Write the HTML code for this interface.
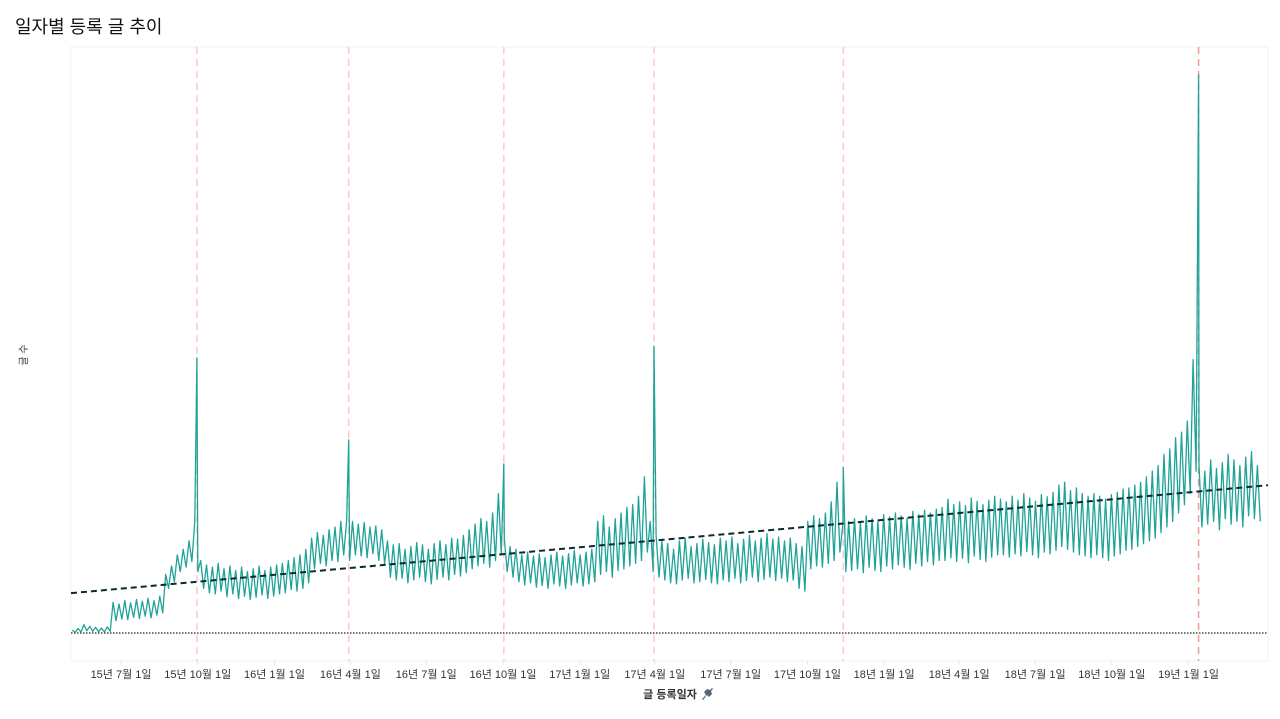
<!DOCTYPE html>
<html><head><meta charset="utf-8">
<style>
html,body{margin:0;padding:0;background:#fff;}
body{width:1280px;height:719px;overflow:hidden;position:relative;font-family:"Liberation Sans","Noto Sans CJK KR",sans-serif;}
#title{position:absolute;left:15px;top:13px;font-size:18px;color:#111;}
svg{position:absolute;left:0;top:0;}
</style></head>
<body>
<div id="title">일자별 등록 글 추이</div>
<svg id="chart" width="1280" height="719" font-family="Liberation Sans, Noto Sans CJK KR, sans-serif"></svg>
<script>
const startDate = new Date(2015,4,2);
const tickDates = [[2015,6,1],[2015,9,1],[2016,0,1],[2016,3,1],[2016,6,1],[2016,9,1],[2017,0,1],[2017,3,1],[2017,6,1],[2017,9,1],[2018,0,1],[2018,3,1],[2018,6,1],[2018,9,1],[2019,0,1]];
const tickLabels = ["15년 7월 1일","15년 10월 1일","16년 1월 1일","16년 4월 1일","16년 7월 1일","16년 10월 1일","17년 1월 1일","17년 4월 1일","17년 7월 1일","17년 10월 1일","18년 1월 1일","18년 4월 1일","18년 7월 1일","18년 10월 1일","19년 1월 1일"];
const weeklyHigh = [5,8,15,12,10,9,11,
55,52,58,54,60,57,62,58,66,
105,120,140,150,165,
200,
130,122,118,125,115,120,112,118,110,115,120,112,118,122,
125,130,135,140,150,
170,180,175,185,190,200,
200,
200,195,198,190,192,185,
165,158,160,150,155,162,158,150,160,165,158,170,168,175,
185,195,205,200,215,250,
170,155,150,140,145,138,142,135,140,145,138,142,148,140,145,150,
200,210,190,205,215,225,230,245,280,
200,
175,165,160,150,165,170,155,160,168,162,158,170,165,172,160,168,175,165,170,178,168,172,165,170,160,155,
200,210,205,215,235,270,
195,200,205,198,210,205,200,212,208,215,210,205,218,212,220,215,222,
225,240,230,235,228,242,236,230,238,245,
240,235,245,238,250,242,236,248,244,252,
265,270,255,260,250,245,250,
245,240,248,252,258,
260,265,270,280,290,300,320,
330,350,360,380,490,
300,290,310,295,305,320,310,300,315,325,300];
const weeklyLow = [1,2,4,3,2,2,3,
22,25,24,28,26,30,27,32,36,
80,92,110,118,128,
110,
80,72,70,75,65,70,62,66,60,64,68,62,66,70,
72,78,75,80,90,
115,125,120,130,128,140,
130,
140,138,135,142,130,125,
100,95,98,90,95,100,92,88,96,100,95,105,102,108,
115,120,125,118,130,140,
110,100,92,86,90,82,85,80,88,84,80,86,90,84,88,92,
105,110,100,112,115,120,125,130,145,
110,
100,95,90,88,95,98,90,92,96,90,88,95,92,98,90,94,100,92,96,100,94,98,92,95,80,75,
115,120,118,125,130,145,
110,112,115,108,118,112,110,120,115,122,118,114,125,120,128,122,130,
130,135,128,134,126,138,132,128,136,140,
140,136,142,138,146,140,135,145,142,148,
155,150,145,140,138,135,140,
135,130,138,142,148,
150,155,160,165,170,180,190,
200,215,230,250,290,
190,195,200,185,205,195,200,190,210,205,200];
const spikeDays = [151,333,519,699,926,1352];
const spikeValues = [493,346,303,514,297,1000];

const X0=71, X1=1268, PXDAY=0.834, Y0=633, PXVAL=0.558, TOP=47, BOT=661;
const xDay = d => X0 + d*PXDAY;
const xDate = dt => xDay((dt - startDate)/86400000);
const yVal = v => Y0 - v*PXVAL;
const svg = document.getElementById('chart');
const NS='http://www.w3.org/2000/svg';
function mk(tag, attrs){const e=document.createElementNS(NS,tag);for(const k in attrs)e.setAttribute(k,attrs[k]);svg.appendChild(e);return e;}

const frame = mk('rect',{x:X0,y:TOP,width:X1-X0,height:BOT-TOP,fill:'none',stroke:'#f0f0f0','stroke-width':1});



tickDates.forEach((t,i)=>{
  const x = xDate(new Date(t[0],t[1],t[2]));
  const tm = mk('line',{x1:x,x2:x,y1:BOT,y2:BOT+4,stroke:'#e6e6e6'});
  
  
  const tx = mk('text',{x:x,y:678,'text-anchor':'middle','font-size':'11',fill:'#333'});
  tx.textContent = tickLabels[i];
  
  
});

spikeDays.forEach((d,i)=>{
  const x = xDay(d);
  const l = mk('line',{x1:x,x2:x,y1:TOP,y2:BOT,stroke:i===spikeDays.length-1?'#f09a9a':'#ffc8c8','stroke-width':1.5,'stroke-dasharray':'7 5'});
  
  
});

const z = mk('line',{x1:X0,x2:X1,y1:Y0,y2:Y0,stroke:'#222','stroke-width':1.2,'stroke-dasharray':'1.5 1.5'});



let pts=[];
weeklyHigh.forEach((h,w)=>{pts.push([w*7+1.5,h]);pts.push([w*7+5,weeklyLow[w]]);});
spikeDays.forEach((d,i)=>{pts.push([d,spikeValues[i]]);});
pts.sort((a,b)=>a[0]-b[0]);
const dstr = pts.map((p,i)=>(i?'L':'M')+xDay(p[0]).toFixed(1)+' '+yVal(p[1]).toFixed(1)).join(' ');
const line = mk('path',{d:dstr,fill:'none',stroke:'#1fa398','stroke-width':1.3,'stroke-linejoin':'round'});



let n=0,sx=0,sy=0,sxx=0,sxy=0;
weeklyHigh.forEach((h,w)=>{const p=[w*7+1.5,h*0.72+weeklyLow[w]*0.28];n++;sx+=p[0];sy+=p[1];sxx+=p[0]*p[0];sxy+=p[0]*p[1];});
const slope=(n*sxy-sx*sy)/(n*sxx-sx*sx), icpt=(sy-slope*sx)/n;
const dEnd=(X1-X0)/PXDAY;
const tr = mk('line',{x1:X0,y1:yVal(icpt),x2:X1,y2:yVal(icpt+slope*dEnd),stroke:'#0b2b2b','stroke-width':2,'stroke-dasharray':'6 4'});



const yt = mk('text',{x:0,y:0,transform:'translate(27,355) rotate(-90)','text-anchor':'middle','font-size':'10',fill:'#333'});
yt.textContent='글 수';


const xt = mk('text',{x:670,y:698,'text-anchor':'middle','font-size':'11','font-weight':'bold',fill:'#333'});
xt.textContent='글 등록일자';


const pin = mk('path',{d:'M702 699 L706 695 L704 692 L707 689 L710 690 L712 688 L713 689 L711 691 L712 694 L709 697 L707 695 L703 700 Z',fill:'#5a6675'});


</script>
</body></html>
